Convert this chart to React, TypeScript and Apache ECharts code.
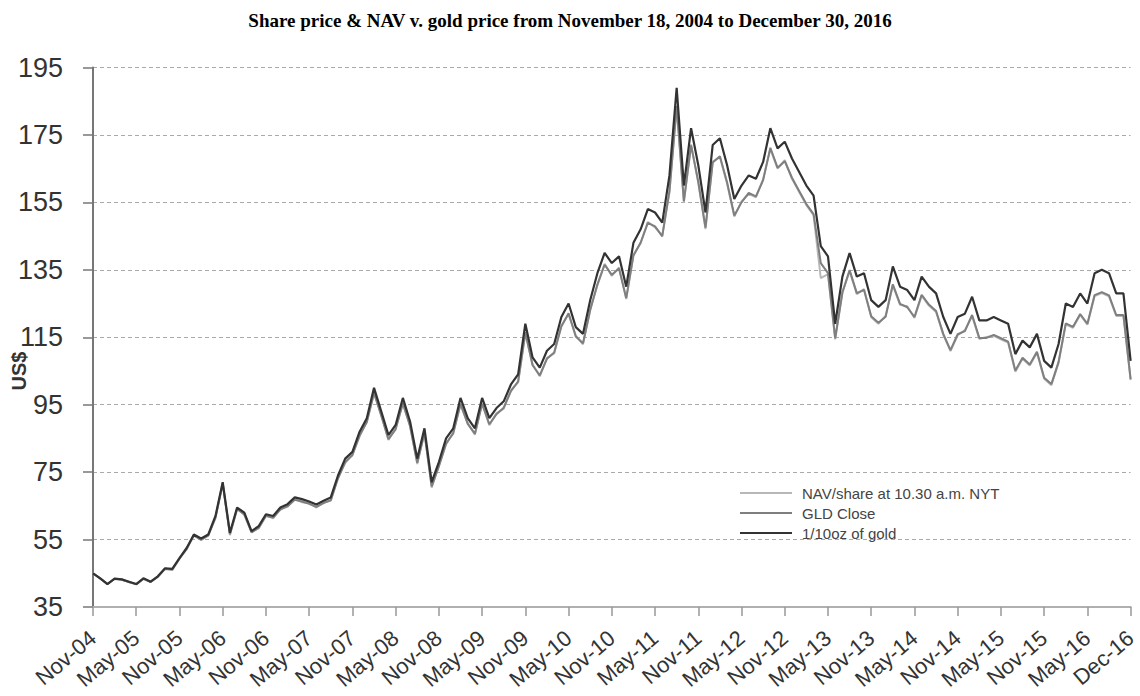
import { useEffect, useRef } from 'react';
import * as echarts from 'echarts';

const MONTHS = ['Jan', 'Feb', 'Mar', 'Apr', 'May', 'Jun', 'Jul', 'Aug', 'Sep', 'Oct', 'Nov', 'Dec'];
// monthly categories Nov-04 .. Oct-16, last point Dec-16 (data ends Dec 30, 2016)
const categories: string[] = [];
for (let i = 0; i < 144; i++) {
  const m = (10 + i) % 12;
  const y = 2004 + Math.floor((10 + i) / 12);
  categories.push(`${MONTHS[m]}-${String(y % 100).padStart(2, '0')}`);
}
categories.push('Dec-16');

const goldTenthOz = [
  45, 43.5, 41.8, 43.4, 43.2, 42.5, 41.8, 43.5, 42.5, 44.1, 46.5, 46.3,
  49.5, 52.5, 56.5, 55.3, 56.5, 62, 72, 57, 64.5, 63, 57.5, 59,
  62.5, 62, 64.5, 65.5, 67.5, 67, 66.3, 65.4, 66.5, 67.5, 74, 79,
  81, 87, 91, 100, 93, 86, 89, 97, 90, 79, 88, 72,
  78, 85, 88, 97, 91, 88, 97, 91, 94, 96, 101, 104,
  119, 109, 106, 111, 113, 121, 125, 118, 116, 126, 134, 140,
  137, 139, 130, 143, 147, 153, 152, 149, 163, 189, 160, 177,
  166, 152, 172, 174, 166, 156, 160, 163, 162, 167, 177, 171,
  173, 168, 164, 160, 157, 142, 139, 119, 133, 140, 133, 134,
  126, 124, 126, 136, 130, 129, 126, 133, 130, 128, 121, 116,
  121, 122, 127, 120, 120, 121, 120, 119, 110, 114, 112, 116,
  108, 106, 113, 125, 124, 128, 125, 134, 135, 134, 128, 128,
  108,
];

const gldClose = [
  45.0, 43.5, 41.8, 43.4, 43.1, 42.4, 41.7, 43.4, 42.4, 44.0, 46.3, 46.1,
  49.3, 52.3, 56.2, 55.0, 56.2, 61.6, 71.5, 56.6, 64.0, 62.5, 57.1, 58.5,
  62.0, 61.5, 63.9, 64.9, 66.8, 66.3, 65.6, 64.7, 65.8, 66.7, 73.1, 78.0,
  80.0, 85.9, 89.8, 98.6, 91.7, 84.8, 87.7, 95.5, 88.6, 77.8, 86.6, 70.8,
  76.7, 83.5, 86.5, 95.3, 89.3, 86.4, 95.2, 89.2, 92.2, 94.1, 99.0, 101.9,
  116.5, 106.7, 103.7, 108.6, 110.5, 118.2, 122.1, 115.2, 113.2, 123.0, 130.7, 136.5,
  133.5, 135.4, 126.6, 139.2, 143.1, 148.9, 147.9, 144.9, 158.4, 183.6, 155.4, 171.9,
  161.1, 147.5, 166.8, 168.7, 160.9, 151.1, 155.0, 157.8, 156.8, 161.6, 171.2, 165.3,
  167.2, 162.3, 158.4, 154.5, 151.5, 137.0, 134.0, 114.7, 128.2, 134.9, 128.1, 129.0,
  121.2, 119.3, 121.1, 130.7, 124.9, 123.9, 121.0, 127.6, 124.7, 122.8, 116.0, 111.2,
  115.9, 116.8, 121.6, 114.8, 114.8, 115.7, 114.7, 113.7, 105.1, 108.9, 106.9, 110.7,
  103.0, 101.1, 107.7, 119.1, 118.1, 121.9, 119.0, 127.5, 128.4, 127.4, 121.6, 121.6,
  102.6,
];

const navPerShare = [
  45.1, 43.4, 41.9, 43.3, 43.2, 42.3, 41.8, 43.3, 42.5, 43.9, 46.4, 46.0,
  49.4, 52.1, 56.4, 54.8, 56.4, 61.3, 71.8, 56.3, 64.2, 62.3, 57.3, 58.3,
  62.2, 61.3, 64.1, 64.7, 67.0, 66.1, 65.8, 64.5, 66.0, 66.5, 73.4, 77.7,
  80.3, 85.6, 90.1, 98.2, 92.0, 84.5, 88.0, 95.1, 88.9, 77.4, 86.9, 70.4,
  77.0, 83.2, 86.8, 94.9, 89.6, 86.1, 95.5, 88.9, 92.5, 93.8, 99.3, 101.6,
  116.1, 107.0, 103.4, 108.9, 110.2, 118.5, 121.8, 115.5, 112.9, 123.3, 130.4, 136.8,
  133.2, 135.7, 126.3, 139.5, 142.8, 149.2, 147.6, 145.2, 158.0, 183.1, 155.0, 172.2,
  160.8, 147.1, 167.1, 168.4, 160.6, 150.8, 155.3, 157.5, 156.5, 161.9, 170.8, 165.0,
  167.5, 162.0, 158.1, 154.2, 151.2, 132.5, 133.7, 114.4, 128.5, 134.6, 127.8, 129.3,
  120.9, 119.0, 121.4, 130.4, 124.6, 124.2, 120.7, 127.3, 124.4, 122.5, 115.7, 110.9,
  115.6, 117.1, 121.3, 114.5, 115.1, 115.4, 114.4, 113.4, 104.8, 108.6, 106.6, 110.4,
  102.7, 100.8, 107.4, 118.8, 117.8, 121.6, 118.7, 127.2, 128.1, 127.1, 121.3, 121.3,
  102.3,
];

const seriesNames = ['NAV/share at 10.30 a.m. NYT', 'GLD Close', '1/10oz of gold'];
const TITLE = 'Share price & NAV v. gold price from November 18, 2004 to December 30, 2016';

export default function App() {
  const ref = useRef<HTMLDivElement>(null);
  useEffect(() => {
    document.body.style.margin = '0';
    const chart = echarts.init(ref.current!, null, { renderer: 'svg' });
    const sans = '"Liberation Sans", Arial, sans-serif';
    const showEvery6 = (i: number) => i % 6 === 0;
    chart.setOption({
      animation: false,
      backgroundColor: '#fff',
      title: {
        text: TITLE,
        left: 'center',
        top: 6,
        textStyle: {
          fontFamily: '"Liberation Serif", "Times New Roman", serif',
          fontWeight: 'bold',
          fontSize: 19,
          color: '#000',
        },
      },
      grid: { left: 93, right: 5, top: 67.5, bottom: 89, containLabel: false },
      legend: {
        orient: 'vertical',
        left: 735,
        top: 480,
        itemWidth: 52,
        itemHeight: 2,
        itemGap: 4,
        icon: 'rect',
        textStyle: { fontFamily: sans, fontSize: 15, color: '#444', lineHeight: 16, padding: [0, 0, 0, 5] },
        data: seriesNames,
      },
      xAxis: {
        type: 'category',
        data: categories,
        boundaryGap: false,
        axisLine: { lineStyle: { color: '#b0b0b0', width: 2 } },
        axisTick: { show: true, interval: showEvery6, length: 9, lineStyle: { color: '#999', width: 1.5 } },
        axisLabel: {
          interval: showEvery6,
          rotate: 40,
          fontSize: 22,
          fontFamily: sans,
          color: '#333',
          margin: 28,
        },
        splitLine: { show: false },
      },
      yAxis: {
        type: 'value',
        min: 35,
        max: 195,
        interval: 20,
        axisLine: { show: true, lineStyle: { color: '#777', width: 2 } },
        axisTick: { show: true, length: 10, lineStyle: { color: '#777', width: 1.5 } },
        axisLabel: { fontSize: 27, fontFamily: sans, color: '#333', margin: 30 },
        splitLine: { show: true, lineStyle: { type: [4, 3], color: '#aaa', width: 1 } },
      },
      graphic: [
        {
          type: 'text',
          x: 19,
          y: 371,
          rotation: Math.PI / 2,
          style: {
            text: 'US$',
            font: `bold 20px ${sans}`,
            fill: '#333',
            textAlign: 'center',
            textVerticalAlign: 'middle',
          },
        },
      ],
      series: [
        {
          name: seriesNames[0],
          type: 'line',
          data: navPerShare,
          showSymbol: false,
          symbol: 'none',
          color: '#b8b8b8',
          lineStyle: { width: 2, color: '#b8b8b8' },
          z: 1,
        },
        {
          name: seriesNames[1],
          type: 'line',
          data: gldClose,
          showSymbol: false,
          symbol: 'none',
          color: '#7f7f7f',
          lineStyle: { width: 2, color: '#7f7f7f' },
          z: 2,
        },
        {
          name: seriesNames[2],
          type: 'line',
          data: goldTenthOz,
          showSymbol: false,
          symbol: 'none',
          color: '#333',
          lineStyle: { width: 2.2, color: '#333' },
          z: 3,
        },
      ],
    });
    return () => chart.dispose();
  }, []);
  return <div ref={ref} style={{ width: 1140, height: 696 }} />;
}
